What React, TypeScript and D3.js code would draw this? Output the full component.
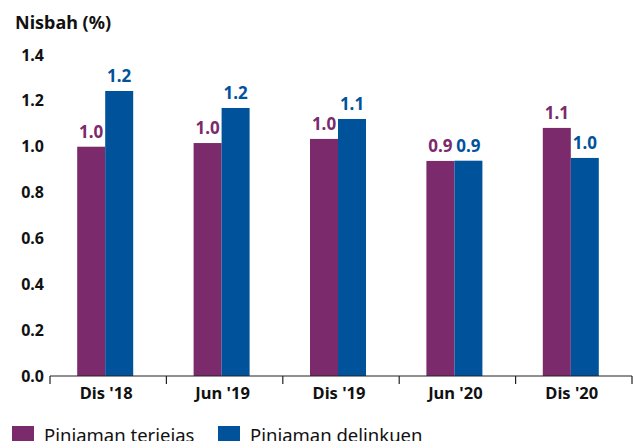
import React, { useEffect, useRef } from 'react';
import * as d3 from 'd3';

const categories = ["Dis '18", "Jun '19", "Dis '19", "Jun '20", "Dis '20"];
const terjejas = [1.0, 1.016, 1.034, 0.938, 1.082];
const delinkuen = [1.243, 1.169, 1.121, 0.939, 0.951];
const yTicks = [0, 0.2, 0.4, 0.6, 0.8, 1.0, 1.2, 1.4];
const seriesNames = ['Pinjaman terjejas', 'Pinjaman delinkuen'];
const colors = ['#7b2a6b', '#00539b'];

const width = 644;
const height = 441;
const font = "'Noto Sans', sans-serif";

export default function App() {
  const ref = useRef<SVGSVGElement>(null);

  useEffect(() => {
    if (!ref.current) return;
    const svg = d3.select(ref.current);
    svg.selectAll('*').remove();

    const margin = { top: 55, left: 50, right: 12, bottom: 65 };
    const x = d3.scaleBand<string>()
      .domain(categories)
      .range([margin.left, width - margin.right])
      .paddingInner(0)
      .paddingOuter(0);
    const y = d3.scaleLinear()
      .domain([0, 1.4])
      .range([376, 55]);

    const barW = 28;
    const series = [terjejas, delinkuen];

    // title
    svg.append('text')
      .attr('x', 15)
      .attr('y', 29)
      .attr('font-family', font)
      .attr('font-weight', 700)
      .attr('font-size', 18)
      .attr('fill', '#111')
      .text('Nisbah (%)');

    // y tick labels
    svg.append('g')
      .selectAll('text')
      .data(yTicks)
      .join('text')
      .attr('x', 44)
      .attr('y', d => y(d))
      .attr('dy', '0.35em')
      .attr('text-anchor', 'end')
      .attr('font-family', font)
      .attr('font-weight', 700)
      .attr('font-size', 16)
      .attr('fill', '#111')
      .text(d => d.toFixed(1));

    // bars
    series.forEach((vals, si) => {
      const g = svg.append('g');
      g.selectAll('rect')
        .data(vals)
        .join('rect')
        .attr('x', (_, i) => (x(categories[i]) as number) + x.bandwidth() / 2 - 3 - barW + si * barW)
        .attr('y', d => y(d))
        .attr('width', barW)
        .attr('height', d => y(0) - y(d))
        .attr('fill', colors[si]);
      g.selectAll('text')
        .data(vals)
        .join('text')
        .attr('x', (_, i) => (x(categories[i]) as number) + x.bandwidth() / 2 - 3 - barW / 2 + si * barW)
        .attr('y', d => y(d) - 9)
        .attr('text-anchor', 'middle')
        .attr('font-family', font)
        .attr('font-weight', 700)
        .attr('font-size', 17)
        .attr('fill', colors[si])
        .text(d => d.toFixed(1));
    });

    // x axis
    const xAxis = svg.append('g').attr('transform', `translate(0,${y(0)})`);
    xAxis.append('line')
      .attr('x1', margin.left)
      .attr('x2', width - margin.right)
      .attr('stroke', '#222')
      .attr('stroke-width', 1.2);
    const tickXs = [...categories.map(c => x(c) as number), width - margin.right];
    xAxis.selectAll('line.tick')
      .data(tickXs)
      .join('line')
      .attr('class', 'tick')
      .attr('x1', d => d)
      .attr('x2', d => d)
      .attr('y1', 0)
      .attr('y2', 8)
      .attr('stroke', '#222')
      .attr('stroke-width', 1.2);
    xAxis.selectAll('text')
      .data(categories)
      .join('text')
      .attr('x', d => (x(d) as number) + x.bandwidth() / 2 - 2)
      .attr('y', 23)
      .attr('text-anchor', 'middle')
      .attr('font-family', font)
      .attr('font-weight', 700)
      .attr('font-size', 16.5)
      .attr('fill', '#111')
      .text(d => d);

    // legend
    const legendX = [12, 218];
    seriesNames.forEach((name, i) => {
      svg.append('rect')
        .attr('x', legendX[i])
        .attr('y', 426)
        .attr('width', 22)
        .attr('height', 20)
        .attr('fill', colors[i]);
      svg.append('text')
        .attr('x', legendX[i] + 32)
        .attr('y', 442)
        .attr('font-family', font)
        .attr('font-size', 18.5)
        .attr('fill', '#111')
        .text(name);
    });
  }, []);

  return (
    <svg
      ref={ref}
      width={width}
      height={height}
      style={{ position: 'absolute', left: 0, top: 0, background: '#fff' }}
    />
  );
}
